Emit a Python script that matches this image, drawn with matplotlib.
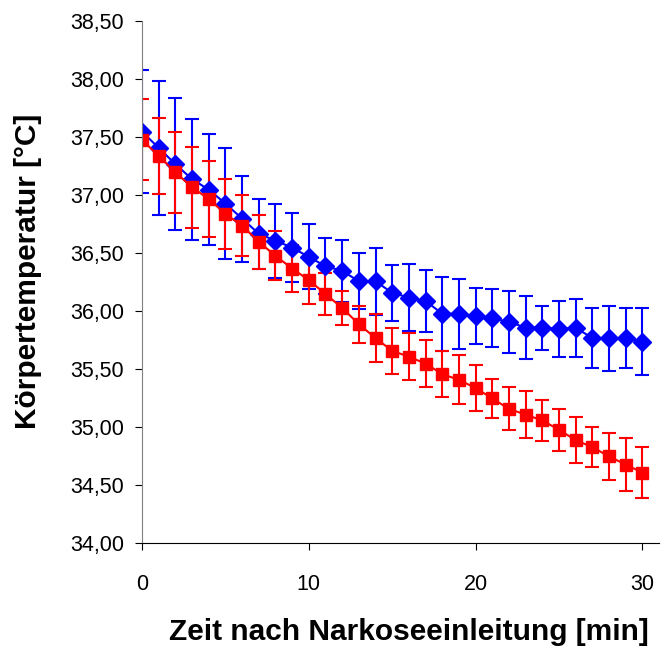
import matplotlib
matplotlib.use("Agg")
import matplotlib.pyplot as plt
from matplotlib.ticker import FuncFormatter

plt.rcParams['font.family'] = ['Liberation Sans', 'DejaVu Sans']

# Zeit nach Narkoseeinleitung (min)
zeit = list(range(0, 31))

# blaue Reihe (Rauten)
blau = [37.55, 37.41, 37.27, 37.14, 37.05, 36.93, 36.80, 36.67, 36.61, 36.55,
        36.47, 36.39, 36.35, 36.26, 36.26, 36.16, 36.12, 36.09, 35.98, 35.98,
        35.96, 35.94, 35.91, 35.86, 35.86, 35.85, 35.86, 35.77, 35.77, 35.77,
        35.74]
blau_sd = [0.53, 0.58, 0.57, 0.52, 0.48, 0.48, 0.37, 0.30, 0.32, 0.30,
           0.28, 0.24, 0.27, 0.24, 0.29, 0.24, 0.29, 0.27, 0.32, 0.30,
           0.24, 0.25, 0.27, 0.27, 0.19, 0.24, 0.25, 0.26, 0.28, 0.26,
           0.29]

# rote Reihe (Quadrate)
rot = [37.48, 37.34, 37.20, 37.07, 36.97, 36.84, 36.74, 36.60, 36.48, 36.37,
       36.27, 36.15, 36.03, 35.89, 35.77, 35.66, 35.61, 35.55, 35.46, 35.41,
       35.34, 35.25, 35.16, 35.11, 35.06, 34.98, 34.89, 34.83, 34.75, 34.68,
       34.61]
rot_sd = [0.35, 0.33, 0.35, 0.35, 0.33, 0.30, 0.26, 0.23, 0.21, 0.20,
          0.21, 0.18, 0.15, 0.16, 0.21, 0.20, 0.20, 0.20, 0.20, 0.21,
          0.20, 0.17, 0.185, 0.20, 0.18, 0.18, 0.20, 0.175, 0.20, 0.23,
          0.22]

fig = plt.figure(figsize=(6.68, 6.5), dpi=100)
ax = fig.add_axes([0.2126, 0.164, 0.774, 0.803])

ax.errorbar(zeit, blau, yerr=blau_sd, color='#0000FF', marker='D', markersize=9,
            linewidth=1.5, elinewidth=1.5, capsize=5, capthick=1.5)
ax.errorbar(zeit, rot, yerr=rot_sd, color='#FF0000', marker='s', markersize=8,
            linewidth=1.5, elinewidth=1.5, capsize=5, capthick=1.5)

ax.set_xlim(0, 31)
ax.set_ylim(34, 38.5)
ax.set_xticks([0, 10, 20, 30])
ax.set_yticks([34 + 0.5 * i for i in range(10)])
ax.yaxis.set_major_formatter(FuncFormatter(lambda v, p: ('%.2f' % v).replace('.', ',')))

ax.spines['top'].set_visible(False)
ax.spines['right'].set_visible(False)
ax.spines['left'].set_color('#808080')
ax.spines['bottom'].set_color('black')
ax.tick_params(axis='both', direction='out', length=5, labelsize=15.5)
ax.tick_params(axis='x', pad=17)
ax.tick_params(axis='y', pad=8)

fig.text(0.612, 0.027, 'Zeit nach Narkoseeinleitung [min]', ha='center', va='center',
         fontsize=21.5, fontweight='bold')
fig.text(0.042, 0.583, 'Körpertemperatur [°C]', ha='center', va='center',
         rotation=90, fontsize=21.5, fontweight='bold')

fig.savefig('out.png', dpi=100)
